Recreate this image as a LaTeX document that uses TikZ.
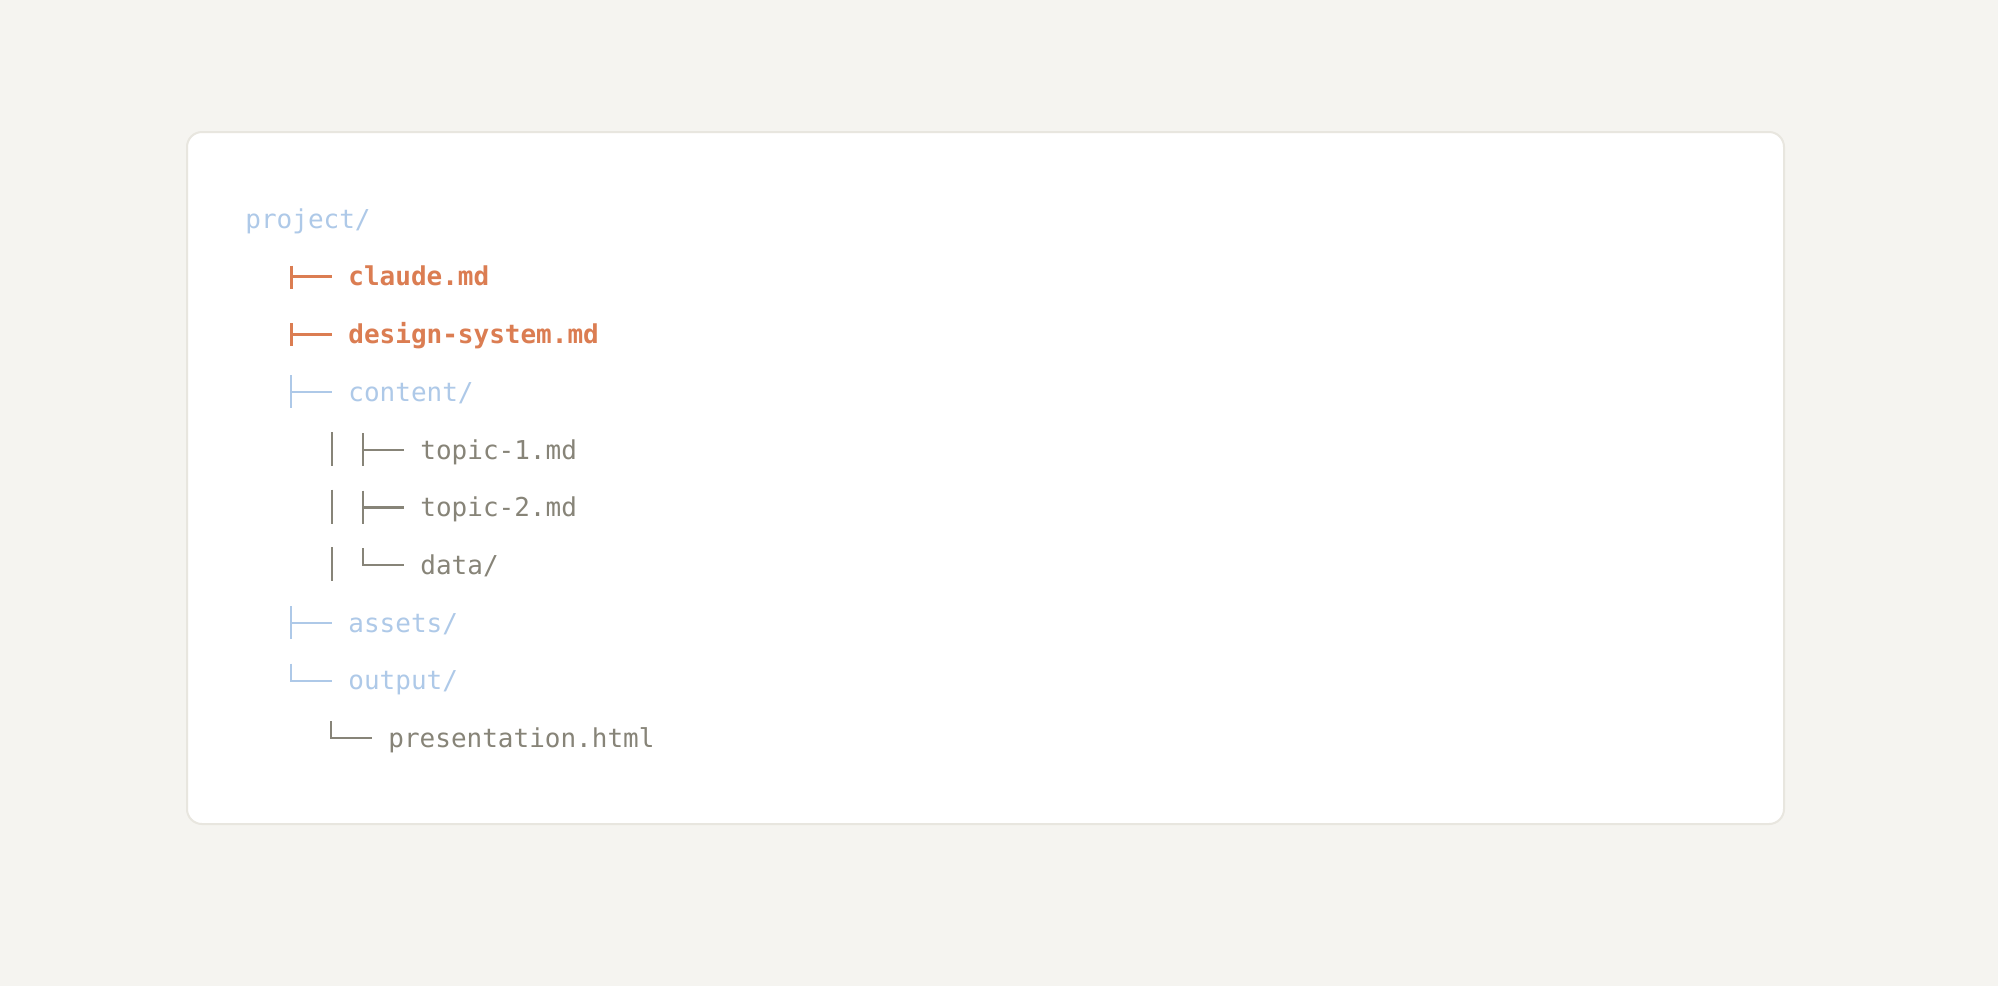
\documentclass[tikz,border=0pt]{standalone}
\usepackage{fontspec}
\usetikzlibrary{calc}
\newfontfamily\treefont{DejaVu Sans Mono}
\definecolor{pagebg}{HTML}{F5F4F0}
\definecolor{cardline}{HTML}{E8E6DF}
\definecolor{dirblue}{HTML}{AEC9E8}
\definecolor{keyorange}{HTML}{DB7D52}
\definecolor{filegray}{HTML}{878478}

% tree glyphs, drawn left of a named entry
\newcommand\treetee[2]{\draw[branch,#2] ($(#1.base west)+(-57,-26)$) -- ++(0,33)
  ($(#1.base west)+(-57,-9)$) -- ++(41,0);}
\newcommand\treeelbow[2]{\draw[branch,#2] ($(#1.base west)+(-57,-26)$) |- ++(41,17);}
\newcommand\treepipe[1]{\draw[branch,filegray] ($(#1.base west)+(-88,-27)$) -- ++(0,34);}
\newcommand\keytee[1]{\draw[key branch] ($(#1.base west)+(-57,-20)$) -- ++(0,23)
  ($(#1.base west)+(-57,-9)$) -- ++(41,0);}

\begin{document}
\begin{tikzpicture}[x=0.5pt,y=-0.5pt,
  entry/.style={anchor=base west,inner sep=0pt,font=\treefont\fontsize{13}{15}\selectfont},
  dir node/.style={entry,text=dirblue},
  key node/.style={entry,text=keyorange,font=\treefont\bfseries\fontsize{13}{15}\selectfont},
  file node/.style={entry,text=filegray},
  branch/.style={line width=1.1pt},
  key branch/.style={line width=1.5pt,keyorange}]

  \fill[pagebg] (0,0) rectangle (1998,986);
  \useasboundingbox (0,0) rectangle (1998,986);
  \draw[cardline,fill=white,line width=1pt,rounded corners=7.5pt] (187,132) rectangle (1784,824);

  \node[dir node] (project) at (245,228) {project/};
  \node[key node] (claude) at (348,285.7) {claude.md};
  \node[key node] (design) at (348,343.4) {design-system.md};
  \node[dir node] (content) at (348,401) {content/};
  \node[file node] (topic1) at (420,459) {topic-1.md};
  \node[file node] (topic2) at (420,516.5) {topic-2.md};
  \node[file node] (data) at (420,574) {data/};
  \node[dir node] (assets) at (348,632) {assets/};
  \node[dir node] (output) at (348,689.6) {output/};
  \node[file node] (presentation) at (388,747) {presentation.html};

  \keytee{claude}
  \keytee{design}
  \treetee{content}{dirblue}
  \treepipe{topic1} \treetee{topic1}{filegray}
  \treepipe{topic2} \treetee{topic2}{filegray}
  \treepipe{data} \treeelbow{data}{filegray}
  \treetee{assets}{dirblue}
  \treeelbow{output}{dirblue}
  \treeelbow{presentation}{filegray}
\end{tikzpicture}
\end{document}
